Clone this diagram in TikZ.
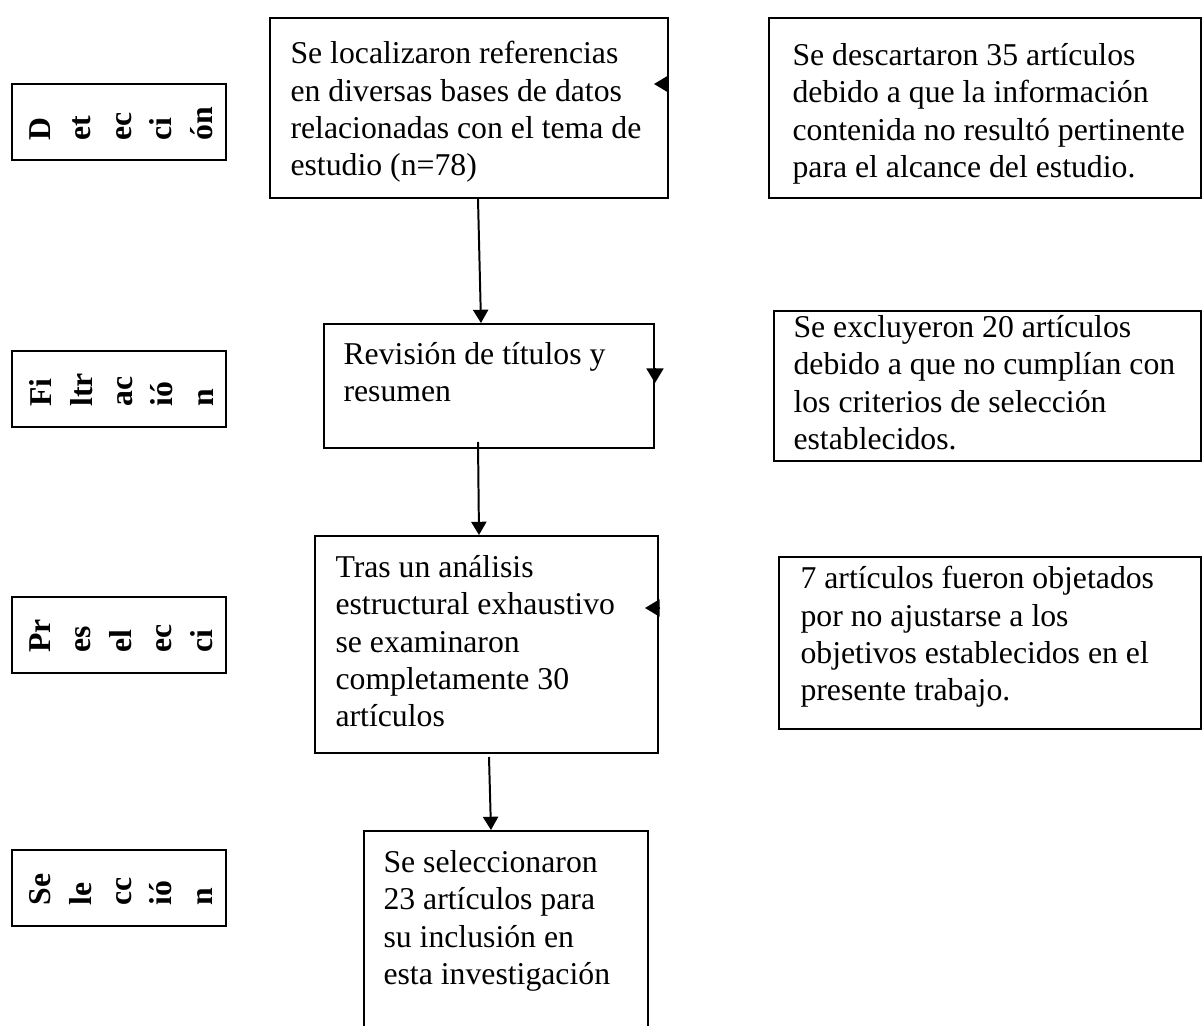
\documentclass[tikz,border=0pt]{standalone}
\usepackage{fontspec}
\setmainfont{Liberation Serif}
\usetikzlibrary{arrows.meta, positioning, calc}
\def\pxlen{0.378pt}

\begin{document}
\begin{tikzpicture}[
  x=0.378pt, y=-0.378pt,
  stepbox/.style={draw, line width=0.75pt, rectangle, inner sep=0pt, anchor=north west},
  phase/.style={stepbox, minimum width=214*\pxlen, minimum height=76*\pxlen},
  txt/.style={inner sep=0pt, anchor=north west, align=left,
    font=\fontsize{12}{14.1}\selectfont},
  lab/.style={inner sep=0pt, rotate=90, anchor=north west, align=left,
    font=\fontsize{12}{15.3}\selectfont\bfseries},
  arr/.style={-{Triangle[length=5pt, width=5.7pt]}, line width=0.75pt},
  stub/.style={-{Triangle[length=5.5pt, width=6.4pt]}, line width=0.75pt},
]
  \useasboundingbox (0,0) rectangle (1203,1025);
  \clip (0,0) rectangle (1203,1025);

  % fases
  \node[phase] (pDet) at (11,83) {};
  \node[phase] (pFil) at (11,350) {};
  \node[phase] (pPre) at (11,596) {};
  \node[phase] (pSel) at (11,849) {};
  \node[lab] (lDet) at ($(pDet.south west)+(18,-20)$) {D\\et\\ec\\ci\\ón};
  \node[lab] (lFil) at ($(pFil.south west)+(18,-21)$) {Fi\\ltr\\ac\\ió\\n};
  \node[lab] (lPre) at ($(pPre.south west)+(18,-21)$) {Pr\\es\\el\\ec\\ci};
  \node[lab] (lSel) at ($(pSel.south west)+(18,-21)$) {Se\\le\\cc\\ió\\n};

  % columna central
  \node[stepbox, minimum width=398*\pxlen, minimum height=180*\pxlen] (bLoc) at (269,17) {};
  \node[stepbox, minimum width=330*\pxlen, minimum height=124*\pxlen] (bRev) at (323,323) {};
  \node[stepbox, minimum width=343*\pxlen, minimum height=217*\pxlen] (bAna) at (314,535) {};
  \node[stepbox, minimum width=284*\pxlen, minimum height=220*\pxlen] (bSel) at (363,830) {};
  \node[txt] (tLoc) at ($(bLoc.north west)+(21,24)$)
    {Se localizaron referencias\\en diversas bases de datos\\relacionadas con el tema de\\estudio (n=78)};
  \node[txt] (tRev) at ($(bRev.north west)+(20,19)$) {Revisión de títulos y\\resumen};
  \node[txt] (tAna) at ($(bAna.north west)+(21,20)$)
    {Tras un análisis\\estructural exhaustivo\\se examinaron\\completamente 30\\artículos};
  \node[txt] (tSel) at ($(bSel.north west)+(20,20)$)
    {Se seleccionaron\\23 artículos para\\su inclusión en\\esta investigación};

  % columna derecha
  \node[stepbox, minimum width=432*\pxlen, minimum height=180*\pxlen] (bDes) at (768,17) {};
  \node[stepbox, minimum width=427*\pxlen, minimum height=150*\pxlen] (bExc) at (773,310) {};
  \node[stepbox, minimum width=422*\pxlen, minimum height=172*\pxlen] (bObj) at (778,556) {};
  \node[txt] (tDes) at ($(bDes.north west)+(24,26)$)
    {Se descartaron 35 artículos\\debido a que la información\\contenida no resultó pertinente\\para el alcance del estudio.};
  \node[txt] (tExc) at ($(bExc.north west)+(20,5)$)
    {Se excluyeron 20 artículos\\debido a que no cumplían con\\los criterios de selección\\establecidos.};
  \node[txt] (tObj) at ($(bObj.north west)+(22,10)$)
    {7 artículos fueron objetados\\por no ajustarse a los\\objetivos establecidos en el\\presente trabajo.};

  \draw[arr] ($(bLoc.south)+(9,0)$) -- ($(bRev.north)+(-8,0)$);
  \draw[arr] ($(bRev.south)+(-11,-7)$) -- ($(bAna.north)+(-7.5,0)$);
  \draw[arr] ($(bAna.south)+(2.5,3)$) -- ($(bSel.north)+(-15,0)$);

  % puntas sueltas en los bordes
  \coordinate (sLoc) at ($(bLoc.north east)+(0,67)$);
  \coordinate (sRev) at ($(bRev.north east)+(0,45)$);
  \coordinate (sAna) at ($(bAna.north east)+(0,73)$);
  \draw[stub] (sLoc) -- ++(-15,0);
  \draw[stub] (sRev) -- ++(0,15);
  \draw[stub] (sAna) -- ++(-14,0);
\end{tikzpicture}
\end{document}
